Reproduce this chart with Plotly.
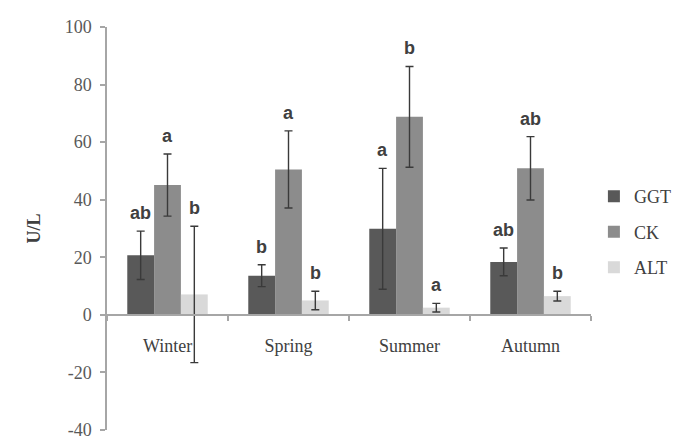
import plotly.graph_objects as go

seasons = ["Winter", "Spring", "Summer", "Autumn"]
series_names = ["GGT", "CK", "ALT"]
ggt = [20.7, 13.6, 29.9, 18.4]
ggt_err = [8.4, 3.8, 21.0, 4.8]
ck = [45.1, 50.5, 68.8, 50.9]
ck_err = [10.8, 13.4, 17.5, 11.0]
alt = [7.1, 5.0, 2.5, 6.5]
alt_err = [23.7, 3.2, 1.5, 1.7]
ggt_letters = ["ab", "b", "a", "ab"]
ck_letters = ["a", "a", "b", "ab"]
alt_letters = ["b", "b", "a", "b"]
y_tickvals = [-40, -20, 0, 20, 40, 60, 80, 100]
y_ticktext = ["-40", "-20", "0", "20", "40", "60", "80", "100"]

values = [ggt, ck, alt]
errors = [ggt_err, ck_err, alt_err]
letters = [ggt_letters, ck_letters, alt_letters]
colors = ["#595959", "#8c8c8c", "#d9d9d9"]

bargap = 0.335
serif = "Liberation Serif, Times New Roman, serif"
sans = "Liberation Sans, Arial, sans-serif"

fig = go.Figure()
for i, name in enumerate(series_names):
    fig.add_trace(go.Bar(
        x=seasons, y=values[i], name=name,
        marker=dict(color=colors[i], line=dict(width=0)),
        error_y=dict(type="data", array=errors[i], visible=True,
                     color="#3a3a3a", thickness=1.4, width=4),
        legendgroup=name,
    ))

w = (1 - bargap) / len(series_names)
annotations = []
for i in range(len(series_names)):
    for j in range(len(seasons)):
        annotations.append(dict(
            x=j + (i - 1) * w, y=values[i][j] + errors[i][j],
            xref="x", yref="y", text=letters[i][j], showarrow=False,
            yanchor="bottom", yshift=6,
            font=dict(family=sans, size=18, color="#404040", weight="bold"),
        ))

fig.update_layout(
    width=680, height=440,
    margin=dict(l=99, r=94, t=19, b=18),
    paper_bgcolor="white", plot_bgcolor="white",
    barmode="group", bargap=bargap, bargroupgap=0,
    showlegend=True,
    legend=dict(x=1.006, y=0.625, xanchor="left", yanchor="top",
                font=dict(family=serif, size=18, color="#404040"),
                tracegroupgap=9, traceorder="grouped",
                bgcolor="rgba(0,0,0,0)"),
    annotations=annotations,
    xaxis=dict(
        type="category", range=[-0.5, 3.5], automargin=False,
        anchor="free", position=40 / 140,
        showline=True, linecolor="#a6a6a6", linewidth=1.5,
        ticks="outside", tickson="boundaries", ticklen=5,
        tickcolor="#a6a6a6", tickwidth=1.5,
        tickfont=dict(family=serif, size=18, color="#404040"),
        ticklabelstandoff=15,
        showgrid=False, zeroline=False,
    ),
    yaxis=dict(
        range=[-40, 100], tickvals=y_tickvals, ticktext=y_ticktext,
        automargin=False, ticklabelstandoff=5,
        showline=True, linecolor="#a6a6a6", linewidth=1.5,
        ticks="outside", ticklen=5, tickcolor="#a6a6a6", tickwidth=1.5,
        tickfont=dict(family=serif, size=18, color="#595959"),
        showgrid=False, zeroline=False,
        title=dict(text="U/L", standoff=19,
                   font=dict(family=serif, size=18, color="#404040", weight="bold")),
    ),
)

fig.write_html("out.html")
